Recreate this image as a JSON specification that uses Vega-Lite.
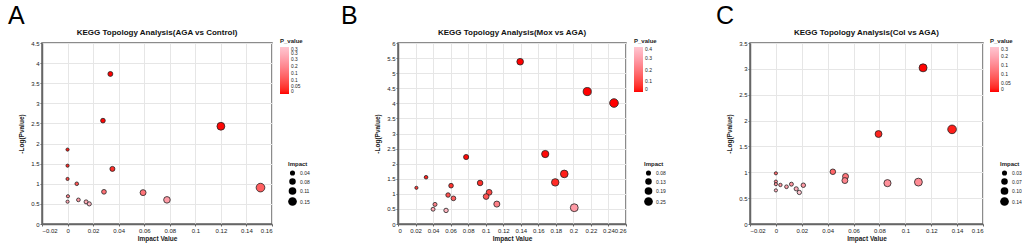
{
  "$schema": "https://vega.github.io/schema/vega-lite/v6.json",
  "background": "white",
  "padding": {"left": 7, "top": 4, "right": 0, "bottom": 0},
  "spacing": 30,
  "datasets": {
    "A": [
      {"impact": 0.0335, "logp": 3.73, "p": 0.000186},
      {"impact": 0.0277, "logp": 2.57, "p": 0.0027},
      {"impact": 0.12, "logp": 2.43, "p": 0.0037},
      {"impact": 0, "logp": 1.85, "p": 0.0141},
      {"impact": 0, "logp": 1.45, "p": 0.0355},
      {"impact": 0, "logp": 1.12, "p": 0.0759},
      {"impact": 0.0351, "logp": 1.37, "p": 0.0427},
      {"impact": 0.0072, "logp": 1.0, "p": 0.1},
      {"impact": 0.0285, "logp": 0.8, "p": 0.158},
      {"impact": 0.0591, "logp": 0.78, "p": 0.166},
      {"impact": 0.0778, "logp": 0.6, "p": 0.251},
      {"impact": 0.151, "logp": 0.905, "p": 0.124},
      {"impact": 0.0003, "logp": 0.69, "p": 0.204},
      {"impact": 0, "logp": 0.555, "p": 0.279},
      {"impact": 0.0085, "logp": 0.6, "p": 0.251},
      {"impact": 0.0145, "logp": 0.55, "p": 0.282},
      {"impact": 0.017, "logp": 0.5, "p": 0.316}
    ],
    "B": [
      {"impact": 0.1393, "logp": 5.38, "p": 0.0000042},
      {"impact": 0.2158, "logp": 4.39, "p": 0.0000407},
      {"impact": 0.2463, "logp": 4.01, "p": 0.0000977},
      {"impact": 0.1679, "logp": 2.32, "p": 0.00479},
      {"impact": 0.1896, "logp": 1.66, "p": 0.0219},
      {"impact": 0.1793, "logp": 1.38, "p": 0.0417},
      {"impact": 0.201, "logp": 0.54, "p": 0.288},
      {"impact": 0.0777, "logp": 2.22, "p": 0.00603},
      {"impact": 0.032, "logp": 1.55, "p": 0.0282},
      {"impact": 0.021, "logp": 1.2, "p": 0.0631},
      {"impact": 0.0605, "logp": 1.27, "p": 0.0537},
      {"impact": 0.0936, "logp": 1.36, "p": 0.0437},
      {"impact": 0.0571, "logp": 0.96, "p": 0.1096},
      {"impact": 0.0632, "logp": 0.85, "p": 0.1413},
      {"impact": 0.1039, "logp": 1.05, "p": 0.0891},
      {"impact": 0.1005, "logp": 0.91, "p": 0.123},
      {"impact": 0.1127, "logp": 0.66, "p": 0.2188},
      {"impact": 0.0422, "logp": 0.65, "p": 0.2239},
      {"impact": 0.04, "logp": 0.49, "p": 0.3236},
      {"impact": 0.0548, "logp": 0.45, "p": 0.3548}
    ],
    "C": [
      {"impact": 0.1137, "logp": 3.02, "p": 0.000955},
      {"impact": 0.1361, "logp": 1.83, "p": 0.0148},
      {"impact": 0.0793, "logp": 1.74, "p": 0.0182},
      {"impact": 0.044, "logp": 1.01, "p": 0.0977},
      {"impact": 0.0538, "logp": 0.92, "p": 0.1202},
      {"impact": 0.0533, "logp": 0.84, "p": 0.1445},
      {"impact": 0.0862, "logp": 0.79, "p": 0.1622},
      {"impact": 0.1101, "logp": 0.81, "p": 0.1549},
      {"impact": 0, "logp": 0.98, "p": 0.1047},
      {"impact": 0, "logp": 0.82, "p": 0.1514},
      {"impact": 0, "logp": 0.77, "p": 0.1698},
      {"impact": 0, "logp": 0.65, "p": 0.2239},
      {"impact": 0.0035, "logp": 0.755, "p": 0.1758},
      {"impact": 0.0082, "logp": 0.72, "p": 0.1905},
      {"impact": 0.012, "logp": 0.77, "p": 0.1698},
      {"impact": 0.0157, "logp": 0.68, "p": 0.2089},
      {"impact": 0.0181, "logp": 0.61, "p": 0.2455},
      {"impact": 0.0212, "logp": 0.75, "p": 0.1778}
    ]
  },
  "hconcat": [
    {
      "title": {"text": "A", "anchor": "start", "frame": "bounds", "fontSize": 25, "fontWeight": "normal", "color": "#000", "dx": -10, "offset": -1},
      "vconcat": [
        {
          "title": {"text": "KEGG Topology Analysis(AGA vs Control)"},
          "width": 230,
          "height": 181,
          "data": {"name": "A"},
          "mark": {"type": "circle", "opacity": 1, "stroke": "#222", "strokeWidth": 0.8},
          "encoding": {
            "x": {"field": "impact", "type": "quantitative", "title": "Impact Value",
              "scale": {"domain": [-0.02, 0.16], "nice": false, "zero": false},
              "axis": {"values": [-0.02, 0, 0.02, 0.04, 0.06, 0.08, 0.1, 0.12, 0.14, 0.16], "format": "~g"}},
            "y": {"field": "logp", "type": "quantitative", "title": "-Log(Pvalue)",
              "scale": {"domain": [0, 4.5], "nice": false},
              "axis": {"values": [0, 0.5, 1, 1.5, 2, 2.5, 3, 3.5, 4, 4.5], "format": "~g"}},
            "fill": {"field": "p", "type": "quantitative", "title": "P_value",
              "scale": {"domain": [0, 0.35], "range": ["#ff0000", "#ffc6d0"]},
              "legend": {"orient": "none", "legendX": 238, "legendY": -5, "gradientLength": 47, "labelFontSize": 4.8, "values": [0, 0.05, 0.1, 0.15, 0.2, 0.25, 0.3, 0.35], "format": "~g"}},
            "size": {"field": "impact", "type": "quantitative", "title": "Impact",
              "scale": {"domain": [0, 0.151], "range": [10, 75], "zero": false},
              "legend": {"orient": "none", "legendX": 246, "legendY": 118, "values": [0.038, 0.076, 0.113, 0.151], "format": ".2f"}}
          }
        }
      ]
    },
    {
      "title": {"text": "B", "anchor": "start", "frame": "bounds", "fontSize": 25, "fontWeight": "normal", "color": "#000", "dx": -33, "offset": -1},
      "vconcat": [
        {
          "title": {"text": "KEGG Topology Analysis(Mox vs AGA)"},
          "width": 228,
          "height": 181,
          "data": {"name": "B"},
          "mark": {"type": "circle", "opacity": 1, "stroke": "#222", "strokeWidth": 0.8},
          "encoding": {
            "x": {"field": "impact", "type": "quantitative", "title": "Impact Value",
              "scale": {"domain": [0, 0.26], "nice": false},
              "axis": {"values": [0, 0.02, 0.04, 0.06, 0.08, 0.1, 0.12, 0.14, 0.16, 0.18, 0.2, 0.22, 0.24, 0.26], "format": "~g"}},
            "y": {"field": "logp", "type": "quantitative", "title": "-Log(Pvalue)",
              "scale": {"domain": [0, 6], "nice": false},
              "axis": {"values": [0, 0.5, 1, 1.5, 2, 2.5, 3, 3.5, 4, 4.5, 5, 5.5, 6], "format": "~g"}},
            "fill": {"field": "p", "type": "quantitative", "title": "P_value",
              "scale": {"domain": [0, 0.4], "range": ["#ff0000", "#ffc6d0"]},
              "legend": {"orient": "none", "legendX": 236, "legendY": -5, "values": [0, 0.1, 0.2, 0.3, 0.4], "format": "~g"}},
            "size": {"field": "impact", "type": "quantitative", "title": "Impact",
              "scale": {"domain": [0.021, 0.246], "range": [10, 75], "zero": false},
              "legend": {"orient": "none", "legendX": 227, "legendY": 99, "padding": 19, "values": [0.0773, 0.1335, 0.1898, 0.246], "format": ".2f"}}
          }
        }
      ]
    },
    {
      "title": {"text": "C", "anchor": "start", "frame": "bounds", "fontSize": 25, "fontWeight": "normal", "color": "#000", "dx": -10, "offset": -1},
      "vconcat": [
        {
          "title": {"text": "KEGG Topology Analysis(Col vs AGA)"},
          "width": 233,
          "height": 181,
          "data": {"name": "C"},
          "mark": {"type": "circle", "opacity": 1, "stroke": "#222", "strokeWidth": 0.8},
          "encoding": {
            "x": {"field": "impact", "type": "quantitative", "title": "Impact Value",
              "scale": {"domain": [-0.02, 0.16], "nice": false, "zero": false},
              "axis": {"values": [-0.02, 0, 0.02, 0.04, 0.06, 0.08, 0.1, 0.12, 0.14, 0.16], "format": "~g"}},
            "y": {"field": "logp", "type": "quantitative", "title": "-Log(Pvalue)",
              "scale": {"domain": [0, 3.5], "nice": false},
              "axis": {"values": [0, 0.5, 1, 1.5, 2, 2.5, 3, 3.5], "format": "~g"}},
            "fill": {"field": "p", "type": "quantitative", "title": "P_value",
              "scale": {"domain": [0, 0.25], "range": ["#ff0000", "#ffc6d0"]},
              "legend": {"orient": "none", "legendX": 240, "legendY": -5, "values": [0, 0.05, 0.1, 0.15, 0.2, 0.25], "format": "~g"}},
            "size": {"field": "impact", "type": "quantitative", "title": "Impact",
              "scale": {"domain": [0, 0.137], "range": [10, 75], "zero": false},
              "legend": {"orient": "none", "legendX": 250, "legendY": 118, "values": [0.034, 0.069, 0.103, 0.137], "format": ".2f"}}
          }
        }
      ]
    }
  ],
  "resolve": {"scale": {"fill": "independent", "size": "independent"}, "legend": {"fill": "independent", "size": "independent"}},
  "config": {
    "font": "Liberation Sans",
    "view": {"stroke": "#666", "strokeWidth": 1.5},
    "axis": {
      "grid": true, "gridColor": "#e6e6e6", "gridWidth": 1,
      "domainColor": "#666", "domainWidth": 1.5,
      "tickColor": "#666", "tickSize": 2, "tickWidth": 1,
      "labelFontSize": 6, "labelColor": "#222", "labelPadding": 1, "labelOverlap": false,
      "titleFontSize": 6.5, "titleFontWeight": "bold", "titleColor": "#222"
    },
    "axisY": {"titlePadding": 6},
    "axisX": {"titlePadding": 2},
    "title": {"fontSize": 8, "fontWeight": "bold", "color": "#111", "offset": 3, "anchor": "middle"},
    "legend": {
      "titleFontSize": 6, "titleFontWeight": "bold", "titleColor": "#222", "titlePadding": 3,
      "labelFontSize": 5, "labelColor": "#222", "labelOverlap": false, "labelBaseline": "middle",
      "gradientLength": 45, "gradientThickness": 9, "gradientStrokeWidth": 0,
      "symbolFillColor": "#000", "symbolStrokeColor": "#000", "symbolStrokeWidth": 0,
      "symbolType": "circle", "rowPadding": 2, "labelOffset": 3
    }
  }
}
